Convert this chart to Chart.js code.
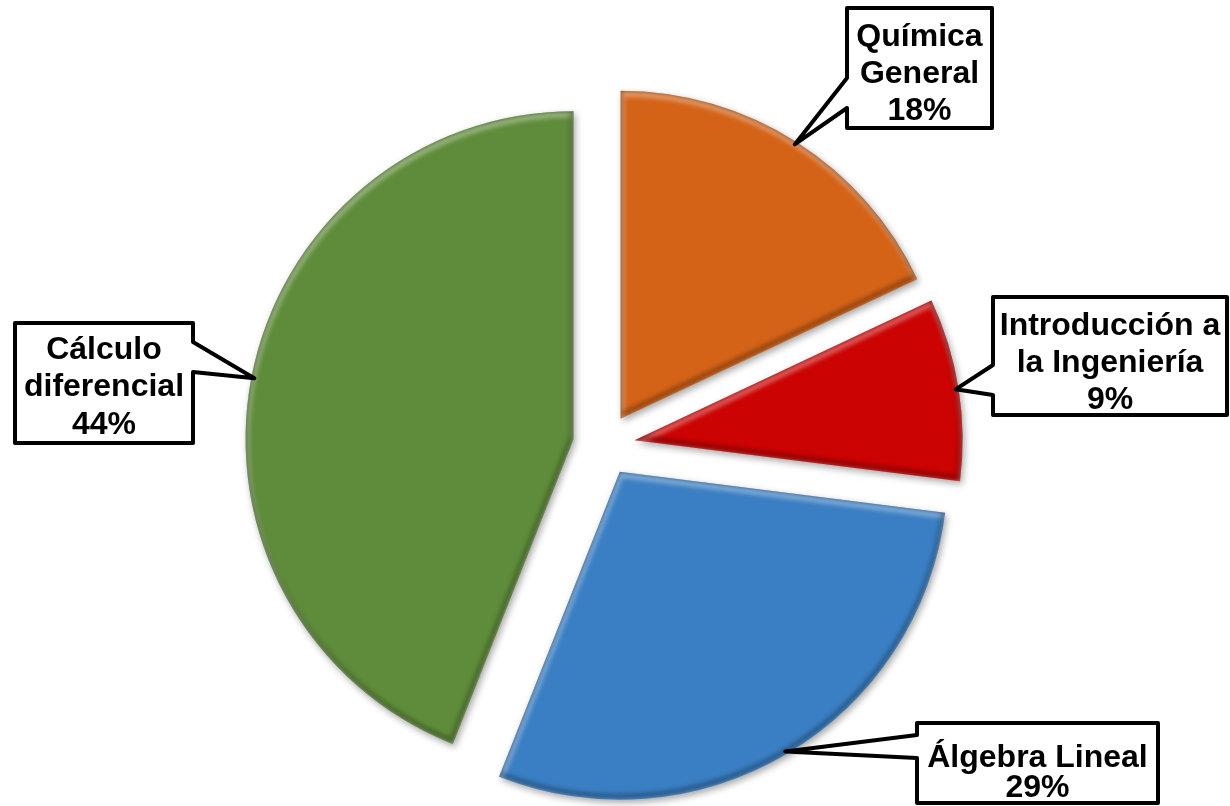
<!DOCTYPE html>
<html>
<head>
<meta charset="utf-8">
<script src="https://cdn.jsdelivr.net/npm/chart.js@4.4.1/dist/chart.umd.min.js"></script>
<style>
  html, body { margin: 0; padding: 0; background: #fff; }
  #wrap { position: relative; width: 1230px; height: 806px; }
</style>
</head>
<body>
<div id="wrap"><canvas id="materias"></canvas></div>
<script>
// Materias y su porcentaje (sentido horario desde las 12)
var materias = ['Química General', 'Introducción a la Ingeniería', 'Álgebra Lineal', 'Cálculo diferencial'];
var etiquetas = [['Química', 'General'], ['Introducción a', 'la Ingeniería'], ['Álgebra Lineal'], ['Cálculo', 'diferencial']];
var porcentajes = [18, 9, 29, 44];
var colores = ['#D46317', '#CC0303', '#3A7FC4', '#5F8C3A'];

// separación de cada porción respecto al centro
var EXPLODE = 31;

// cajas de texto: rectángulo, lado del pico, tramo del borde donde nace el pico,
// centro de la primera línea y paso entre líneas
var cajas = [
  { x: 847, y: 8, w: 145, h: 120, lado: 'izq', y0: 78, y1: 108, ty: 34, paso: 37 },
  { x: 993, y: 297, w: 234, h: 118, lado: 'izq', y0: 365, y1: 395, ty: 323, paso: 37 },
  { x: 917, y: 723, w: 241, h: 80, lado: 'izq', y0: 735, y1: 758, ty: 755, paso: 30 },
  { x: 15, y: 323, w: 178, h: 120, lado: 'der', y0: 342, y1: 372, ty: 347, paso: 37.5 }
];

function shift(arc) {
  var mid = (arc.startAngle + arc.endAngle) / 2;
  return { mid: mid, dx: Math.cos(mid) * EXPLODE, dy: Math.sin(mid) * EXPLODE };
}

function slicePath(ctx, arc, ox, oy) {
  ctx.beginPath();
  ctx.moveTo(arc.x + ox, arc.y + oy);
  ctx.arc(arc.x + ox, arc.y + oy, arc.outerRadius, arc.startAngle, arc.endAngle);
  ctx.closePath();
}

// relieve: brillo en los bordes altos, sombra en los bajos
function bevel(ctx, arc) {
  ctx.save();
  slicePath(ctx, arc, 0, 0);
  ctx.clip();
  ctx.lineJoin = 'round';
  ctx.lineWidth = 6;
  ctx.filter = 'blur(2px)';
  ctx.strokeStyle = 'rgba(255,255,255,0.35)';
  slicePath(ctx, arc, 1, 3);
  ctx.stroke();
  ctx.strokeStyle = 'rgba(0,0,0,0.28)';
  slicePath(ctx, arc, -1, -3);
  ctx.stroke();
  ctx.restore();
}

var explodedPie = {
  id: 'explodedPie',
  beforeDatasetDraw: function (chart, args) {
    var ctx = chart.ctx;
    args.meta.data.forEach(function (arc) {
      var s = shift(arc);
      ctx.save();
      ctx.translate(s.dx, s.dy);
      ctx.save();
      ctx.shadowColor = 'rgba(0,0,0,0.35)';
      ctx.shadowBlur = 7;
      ctx.shadowOffsetX = 2;
      ctx.shadowOffsetY = 3;
      arc.draw(ctx, chart.chartArea);
      ctx.restore();
      bevel(ctx, arc);
      ctx.restore();
    });
    return false;
  }
};

function drawCallout(ctx, b, tx, ty, lines) {
  ctx.save();
  ctx.beginPath();
  if (b.lado === 'izq') {
    ctx.moveTo(b.x, b.y);
    ctx.lineTo(b.x + b.w, b.y);
    ctx.lineTo(b.x + b.w, b.y + b.h);
    ctx.lineTo(b.x, b.y + b.h);
    ctx.lineTo(b.x, b.y1);
    ctx.lineTo(tx, ty);
    ctx.lineTo(b.x, b.y0);
  } else {
    ctx.moveTo(b.x, b.y);
    ctx.lineTo(b.x + b.w, b.y);
    ctx.lineTo(b.x + b.w, b.y0);
    ctx.lineTo(tx, ty);
    ctx.lineTo(b.x + b.w, b.y1);
    ctx.lineTo(b.x + b.w, b.y + b.h);
    ctx.lineTo(b.x, b.y + b.h);
  }
  ctx.closePath();
  ctx.fillStyle = '#fff';
  ctx.fill();
  ctx.lineWidth = 4;
  ctx.lineJoin = 'round';
  ctx.strokeStyle = '#000';
  ctx.stroke();

  ctx.fillStyle = '#000';
  ctx.font = 'bold 32px "Liberation Sans", Arial, sans-serif';
  ctx.textAlign = 'center';
  ctx.textBaseline = 'alphabetic';
  lines.forEach(function (t, k) {
    ctx.fillText(t, b.x + b.w / 2, b.ty + k * b.paso + 11.5);
  });
  ctx.restore();
}

var callouts = {
  id: 'callouts',
  afterDatasetsDraw: function (chart) {
    var ctx = chart.ctx;
    chart.getDatasetMeta(0).data.forEach(function (arc, i) {
      var s = shift(arc);
      var r = arc.outerRadius - 3;
      var tx = arc.x + s.dx + Math.cos(s.mid) * r;
      var ty = arc.y + s.dy + Math.sin(s.mid) * r;
      drawCallout(ctx, cajas[i], tx, ty, etiquetas[i].concat(porcentajes[i] + '%'));
    });
  }
};

new Chart(document.getElementById('materias'), {
  type: 'pie',
  data: {
    labels: materias,
    datasets: [
      {
        data: porcentajes,
        backgroundColor: colores,
        borderWidth: 0
      }
    ]
  },
  options: {
    responsive: true,
    maintainAspectRatio: false,
    animation: false,
    radius: 328,
    layout: { padding: { top: 84, right: 22, bottom: 0, left: 0 } },
    plugins: {
      legend: { display: false },
      tooltip: { enabled: false }
    }
  },
  plugins: [explodedPie, callouts]
});
</script>
</body>
</html>
